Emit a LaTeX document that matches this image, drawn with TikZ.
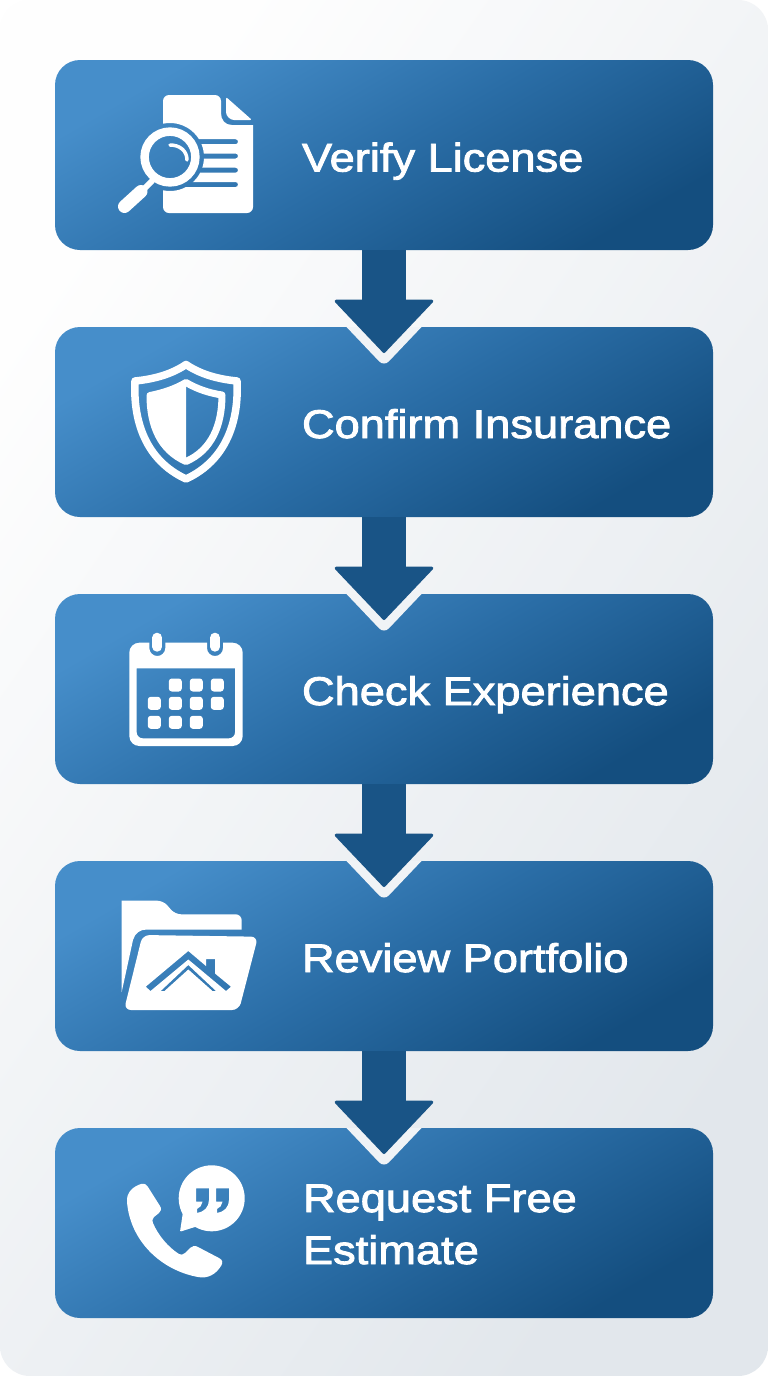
\documentclass[tikz,border=0pt]{standalone}
\usepackage{fontspec}
\setmainfont[FakeBold=2.2,FakeStretch=1.13]{Liberation Sans}
\usetikzlibrary{arrows.meta,calc}
\definecolor{boxTL}{HTML}{468ECA}
\definecolor{boxMid}{HTML}{2A6DA6}
\definecolor{boxBR}{HTML}{144E7F}
\definecolor{arrowblue}{HTML}{195486}
\definecolor{halo}{HTML}{F0F3F6}
\definecolor{bgTL}{HTML}{FEFEFE}
\definecolor{bgBR}{HTML}{E2E7EC}
\tikzset{
  stepbox/.style={rectangle,rounded corners=25pt,minimum width=658pt,minimum height=190pt,inner sep=0pt,outer sep=0pt,
    top color=boxTL,bottom color=boxBR,middle color=boxMid,shading angle=30},
  steplabel/.style={anchor=base west,text=white,font=\fontsize{40}{52}\selectfont,inner sep=0pt,outer sep=0pt,align=left},
  flow/.style={draw=arrowblue,line width=44pt,shorten >=-26pt,
    -{Triangle[width=102pt,length=54pt,line width=3pt,round,fill=arrowblue]}},
  halopart/.style={fill=halo},
  icon/.style={fill=white,draw=none},
  iconline/.style={draw=white,line join=round,line cap=round},
}
\begin{document}
\begin{tikzpicture}[x=1pt,y=-1pt]
\useasboundingbox (0,0) rectangle (768,1376);
\fill[white] (0,0) rectangle (768,1376);
\path[rounded corners=30pt,top color=bgTL,bottom color=bgBR,shading angle=55] (0,0) rectangle (768,1376);

% boxes
\node[stepbox] (b1) at (384,155) {};
\node[stepbox] (b2) at (384,422) {};
\node[stepbox] (b3) at (384,689) {};
\node[stepbox] (b4) at (384,956) {};
\node[stepbox] (b5) at (384,1223) {};

% arrow halos and arrows
\foreach \n in {b2,b3,b4,b5}{
  \fill[halopart] ($(\n.north)+(-37.5,0)$) [rounded corners=7pt] -- ($(\n.north)+(0,39.5)$) [sharp corners] -- ($(\n.north)+(37.5,0)$) -- cycle;
}
\draw[flow] (b1.south) -- (b2.north);
\draw[flow] (b2.south) -- (b3.north);
\draw[flow] (b3.south) -- (b4.north);
\draw[flow] (b4.south) -- (b5.north);

% labels
\node[steplabel] (t1) at (302,171.5) {Verify License};
\node[steplabel] (t2) at (302,438) {Confirm Insurance};
\node[steplabel] (t3) at (302,705) {Check Experience};
\node[steplabel] (t4) at (302,972) {Review Portfolio};
\node[steplabel] (t5a) at (303,1212) {Request Free};
\node[steplabel] (t5b) at (303,1264) {Estimate};

% ---- icon 1: document + magnifier
\begin{scope}[even odd rule]
  \clip (0,0) rectangle (768,1376) (170,157) circle (34);
  \clip (0,0) rectangle (768,1376)
      [rounded corners=2.5pt]
      (180,139.2) rectangle (238,144.2)
      (180,153.5) rectangle (238,158.5)
      (180,167.7) rectangle (238,172.7)
      (180,182) rectangle (238,187);
  \fill[icon,rounded corners=6pt,nonzero rule] (163,95) -- (221,95) [sharp corners] -- (221,113) .. controls (221,120) and (225,125) .. (232,125) -- (253,125) [rounded corners=6pt] -- (253,213) -- (163,213) -- cycle;
\end{scope}
\fill[icon,rounded corners=2pt] (226,97) -- (252,120) -- (236,120) .. controls (230,120) and (226,116) .. (226,110) -- cycle;
\draw[iconline,line width=8.5pt] (170,157) circle (25.4);
\draw[iconline,line width=6pt] (142,191) -- (152,181);
\draw[iconline,line width=13pt] (124.5,206.5) -- (141,191.5);
\draw[iconline,line width=3.5pt] (170,145) .. controls (180,145) and (187,151) .. (187,160);

% ---- icon 2: shield
\draw[iconline,line width=7.5pt] (186,364.5) .. controls (172,374) and (155,379) .. (135,381) .. controls (133,420) and (145,460) .. (186,479) .. controls (227,460) and (239,420) .. (237,381) .. controls (217,379) and (200,374) .. (186,364.5) -- cycle;
\draw[iconline,line width=7pt] (186,382.5) .. controls (197,389) and (209,393) .. (222,395) .. controls (222,425) and (212,450) .. (186,461.5) .. controls (160,450) and (150,425) .. (150,395.5) .. controls (163,393) and (175,389) .. (186,382.5) -- cycle;
\fill[icon] (186,382.5) .. controls (175,389) and (163,393) .. (150,395.5) .. controls (150,425) and (160,450) .. (186,461.5) -- cycle;

% ---- icon 3: calendar
\begin{scope}[even odd rule]
  \clip (0,0) rectangle (768,1376)
    [rounded corners=8pt] (149.3,630) rectangle (165.3,656)
    (207,630) rectangle (223,656);
  \fill[icon] [rounded corners=10pt] (129.3,642.7) rectangle (242.7,746)
    [sharp corners] (136.7,668.3) -- (235,668.3) [rounded corners=6pt] -- (235,738.3) -- (136.7,738.3) [sharp corners] -- cycle;
\end{scope}
\draw[iconline,line width=10pt] (157.3,637.7) -- (157.3,646.7);
\draw[iconline,line width=10pt] (215,637.7) -- (215,646.7);
\foreach \cx/\cy in {175.3/685,196.3/685,217.3/685,
  154.3/703.3,175.3/703.3,196.3/703.3,217.3/703.3,
  154.3/722.3,175.3/722.3,196.3/722.3}{
  \fill[icon,rounded corners=3pt] (\cx-6.5,\cy-6.5) rectangle (\cx+6.5,\cy+6.5);
}

% ---- icon 4: folder
\fill[icon,rounded corners=6pt] (121.7,900.7) -- (163.3,900.7) -- (175,914.3) -- (241.7,914.3) [sharp corners] -- (241.7,929.5) -- (147,929.5) .. controls (140,929.5) and (135,933) .. (133,940) -- (121.7,992) -- cycle;
\begin{scope}[even odd rule]
  \clip (0,0) rectangle (768,1376)
    (145.7,986.7) -- (188.3,951) -- (206,966) -- (206,959) -- (215,959) -- (215,973.5) -- (231,986.7) -- (226,991) -- (188.3,959.5) -- (150.5,991) -- cycle
    (160.7,991) -- (188.3,965) -- (216,991) -- (212.5,991) -- (188.3,969.5) -- (164.5,991) -- cycle;
  \fill[icon,rounded corners=7pt] (142.5,935) -- (258,936.7) -- (239,1010) -- (124,1010) -- cycle;
\end{scope}

% ---- icon 5: phone + bubble
\fill[icon] (127,1202) .. controls (126,1192) and (134,1186) .. (141,1184) .. controls (145,1183) and (147,1185) .. (148,1187) -- (160,1206) .. controls (162,1209) and (161,1211) .. (159,1213) -- (154,1217) .. controls (152,1219) and (152,1221) .. (153,1223) .. controls (158,1235) and (168,1247) .. (179,1254) .. controls (181,1255) and (183,1255) .. (185,1253) -- (190,1248) .. controls (192,1246) and (195,1245) .. (198,1247) -- (219,1258) .. controls (223,1260) and (223,1263) .. (221,1266) .. controls (216,1274) and (208,1279) .. (198,1277) .. controls (160,1270) and (130,1240) .. (127,1202) -- cycle;
\begin{scope}[even odd rule]
  \clip (0,0) rectangle (768,1376)
    (196,1188.3) -- (209,1188.3) -- (209,1200) .. controls (209,1207) and (204,1212) .. (197,1213) -- (197,1209) .. controls (200,1208) and (202,1205) .. (202.5,1201.7) -- (196,1201.7) -- cycle
    (216,1188.3) -- (229,1188.3) -- (229,1200) .. controls (229,1207) and (224,1212) .. (217,1213) -- (217,1209) .. controls (220,1208) and (222,1205) .. (222.5,1201.7) -- (216,1201.7) -- cycle;
  \fill[icon] (211.7,1198.3) circle (33);
  \fill[icon,rounded corners=1pt] (183,1212) -- (180,1231.7) -- (198,1226) -- cycle;
\end{scope}
\end{tikzpicture}
\end{document}
